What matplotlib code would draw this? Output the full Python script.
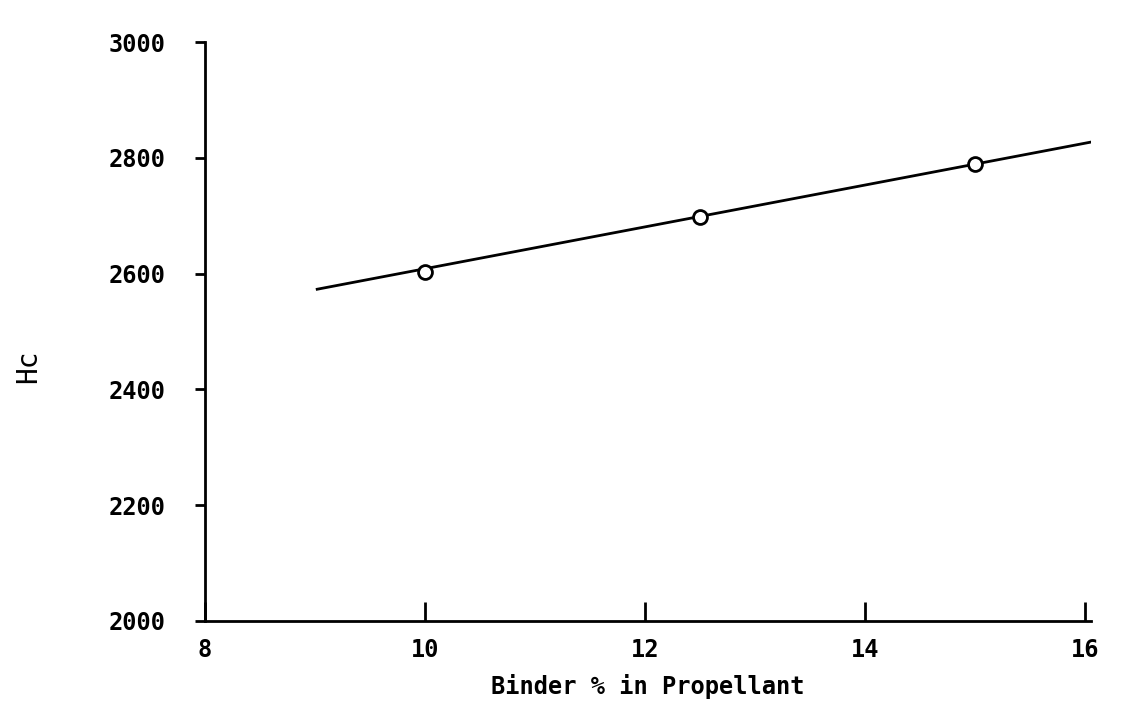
import matplotlib
matplotlib.use("Agg")
import matplotlib.pyplot as plt

# measured points (binder %, Hc)
binder_pct = [10.0, 12.5, 15.0]
hc_values = [2603, 2698, 2790]

# fitted line end points
fit_x = [9.02, 16.05]
fit_y = [2573, 2827]

x_ticks = [8, 10, 12, 14, 16]
y_ticks = [2000, 2200, 2400, 2600, 2800, 3000]

mono = "DejaVu Sans Mono"

fig = plt.figure(figsize=(11.23, 7.05), dpi=100)
ax = fig.add_axes([205 / 1123, 84 / 705, 885.5 / 1123, 579 / 705])

ax.plot(fit_x, fit_y, color="black", linewidth=2.0)
ax.plot(binder_pct, hc_values, linestyle="none", marker="o", markersize=10,
        markerfacecolor="white", markeredgecolor="black", markeredgewidth=2.0)

ax.set_xlim(8, 16.05)
ax.set_ylim(2000, 3000)
ax.set_xticks(x_ticks)
ax.set_yticks(y_ticks)

for side in ("top", "right"):
    ax.spines[side].set_visible(False)
for side in ("left", "bottom"):
    ax.spines[side].set_linewidth(2.0)

ax.tick_params(axis="x", direction="in", length=14, width=2, pad=12)
ax.tick_params(axis="y", direction="out", length=7, width=2, pad=42)
for lab in ax.get_xticklabels() + ax.get_yticklabels():
    lab.set_fontfamily(mono)
    lab.set_fontweight("bold")
    lab.set_fontsize(17)
for lab in ax.get_yticklabels():
    lab.set_horizontalalignment("center")

ax.set_xlabel("Binder % in Propellant", fontfamily=mono, fontweight="bold",
              fontsize=17, labelpad=9)
ax.set_ylabel("Hc", fontfamily=mono, fontsize=20)
ax.yaxis.set_label_coords(-0.184, 0.44)

fig.savefig("out.png", dpi=100, facecolor="white")
